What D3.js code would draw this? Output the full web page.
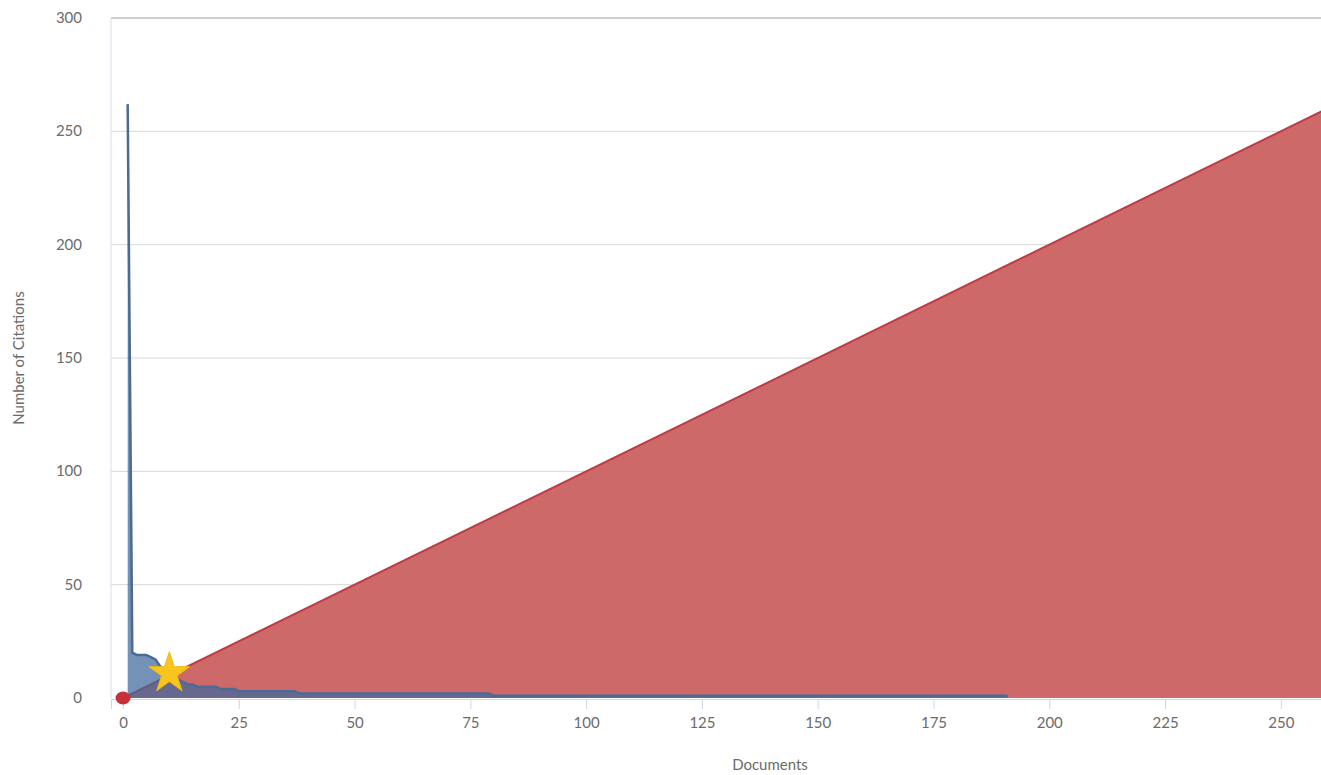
<!DOCTYPE html>
<html>
<head>
<meta charset="utf-8">
<script src="https://cdn.jsdelivr.net/npm/d3@7"></script>
<style>
  body { margin: 0; background: #fff; overflow: hidden; }
  text { font-family: Lato, "Open Sans", sans-serif; fill: #6b6b6b; }
</style>
</head>
<body>
<svg id="chart" width="1321" height="775"></svg>
<script>
// citations per document, sorted high to low (document 1 .. 191)
var citations = [
  262, 20, 19, 19, 19, 18, 17, 14, 12, 11,
  10, 8, 7, 6, 6, 5, 5, 5, 5, 5,
  4, 4, 4, 4, 3, 3, 3, 3, 3, 3,
  3, 3, 3, 3, 3, 3, 3, 2, 2, 2,
  2, 2, 2, 2, 2, 2, 2, 2, 2, 2,
  2, 2, 2, 2, 2, 2, 2, 2, 2, 2,
  2, 2, 2, 2, 2, 2, 2, 2, 2, 2,
  2, 2, 2, 2, 2, 2, 2, 2, 2, 1,
  1, 1, 1, 1, 1, 1, 1, 1, 1, 1,
  1, 1, 1, 1, 1, 1, 1, 1, 1, 1,
  1, 1, 1, 1, 1, 1, 1, 1, 1, 1,
  1, 1, 1, 1, 1, 1, 1, 1, 1, 1,
  1, 1, 1, 1, 1, 1, 1, 1, 1, 1,
  1, 1, 1, 1, 1, 1, 1, 1, 1, 1,
  1, 1, 1, 1, 1, 1, 1, 1, 1, 1,
  1, 1, 1, 1, 1, 1, 1, 1, 1, 1,
  1, 1, 1, 1, 1, 1, 1, 1, 1, 1,
  1, 1, 1, 1, 1, 1, 1, 1, 1, 1,
  1, 1, 1, 1, 1, 1, 1, 1, 1, 1,
  1
];
// the y = x reference line (h-index line)
var refLine = [[0, 0], [262, 262]];
// h-index point and origin marker
var hIndex = [10, 10];
var origin = [0, 0];

var xTicks = [0, 25, 50, 75, 100, 125, 150, 175, 200, 225, 250];
var yTicks = [0, 50, 100, 150, 200, 250, 300];

var plotLeft = 111, plotRight = 1429, plotTop = 18, plotBottom = 698;

var svg = d3.select("#chart");

var x = d3.scaleLinear().domain([-2.6, 282]).range([plotLeft, plotRight]);
var y = d3.scaleLinear().domain([0, 300]).range([plotBottom, plotTop]);

// clip to plot area
svg.append("defs").append("clipPath").attr("id", "plotClip")
  .append("rect")
  .attr("x", plotLeft).attr("y", plotTop - 1)
  .attr("width", plotRight - plotLeft).attr("height", plotBottom - plotTop + 2);

// horizontal grid lines
svg.append("g")
  .selectAll("line")
  .data(yTicks.filter(function (d) { return d > 0; }))
  .enter().append("line")
  .attr("x1", plotLeft).attr("x2", plotRight)
  .attr("y1", function (d) { return y(d); })
  .attr("y2", function (d) { return y(d); })
  .attr("stroke", function (d) { return d === 300 ? "#cfcfcf" : "#d8d8d8"; })
  .attr("stroke-width", function (d) { return d === 300 ? 2 : 1; });

// left border of plot
svg.append("line")
  .attr("x1", plotLeft).attr("x2", plotLeft)
  .attr("y1", plotTop).attr("y2", plotBottom)
  .attr("stroke", "#d8e0ec").attr("stroke-width", 1);

var plot = svg.append("g").attr("clip-path", "url(#plotClip)");

// red area y = x
plot.append("path")
  .datum(refLine)
  .attr("fill", "#cd6969")
  .attr("d", d3.area()
    .x(function (d) { return x(d[0]); })
    .y0(y(0))
    .y1(function (d) { return y(d[1]); }));
plot.append("path")
  .datum(refLine)
  .attr("fill", "none")
  .attr("stroke", "#c03c44")
  .attr("stroke-width", 2)
  .attr("d", d3.line()
    .x(function (d) { return x(d[0]); })
    .y(function (d) { return y(d[1]); }));

// blue citations area
plot.append("path")
  .datum(citations)
  .attr("fill", "rgba(62,104,156,0.72)")
  .attr("d", d3.area()
    .x(function (d, i) { return x(i + 1); })
    .y0(y(0))
    .y1(function (d) { return y(d); }));
plot.append("path")
  .datum(citations)
  .attr("fill", "none")
  .attr("stroke", "#4a6b93")
  .attr("stroke-width", 2.5)
  .attr("d", d3.line()
    .x(function (d, i) { return x(i + 1); })
    .y(function (d) { return y(d); }));

// x axis
var xAxis = svg.append("g")
  .attr("transform", "translate(0," + (plotBottom + 1) + ")")
  .call(d3.axisBottom(x).tickValues(xTicks).tickSize(10).tickPadding(8));
xAxis.select(".domain").attr("stroke", "#ccd6eb");
xAxis.selectAll(".tick line").attr("stroke", "#ccd6eb");
xAxis.selectAll(".tick text")
  .style("font-size", "15px")
  .style("fill", "#6b6b6b");

// y axis labels
svg.append("g")
  .selectAll("text")
  .data(yTicks)
  .enter().append("text")
  .attr("x", 82)
  .attr("y", function (d) { return y(d) + 5; })
  .attr("text-anchor", "end")
  .style("font-size", "15px")
  .text(function (d) { return d; });

// origin marker
svg.append("ellipse")
  .attr("cx", x(origin[0]))
  .attr("cy", y(origin[1]))
  .attr("rx", 7.5)
  .attr("ry", 6.5)
  .attr("fill", "#c8303a");

// h-index star
svg.append("path")
  .attr("d", d3.symbol().type(d3.symbolStar).size(520))
  .attr("transform", "translate(" + x(hIndex[0]) + "," + (y(hIndex[1]) - 2) + ")")
  .attr("fill", "#f7c51e")
  .attr("stroke", "#f2b90c")
  .attr("stroke-width", 1);

// axis titles
svg.append("text")
  .attr("x", (plotLeft + plotRight) / 2)
  .attr("y", 770)
  .attr("text-anchor", "middle")
  .style("font-size", "15px")
  .text("Documents");

svg.append("text")
  .attr("transform", "translate(24," + ((plotTop + plotBottom) / 2) + ") rotate(-90)")
  .attr("text-anchor", "middle")
  .style("font-size", "15px")
  .text("Number of Citations");
</script>
</body>
</html>
